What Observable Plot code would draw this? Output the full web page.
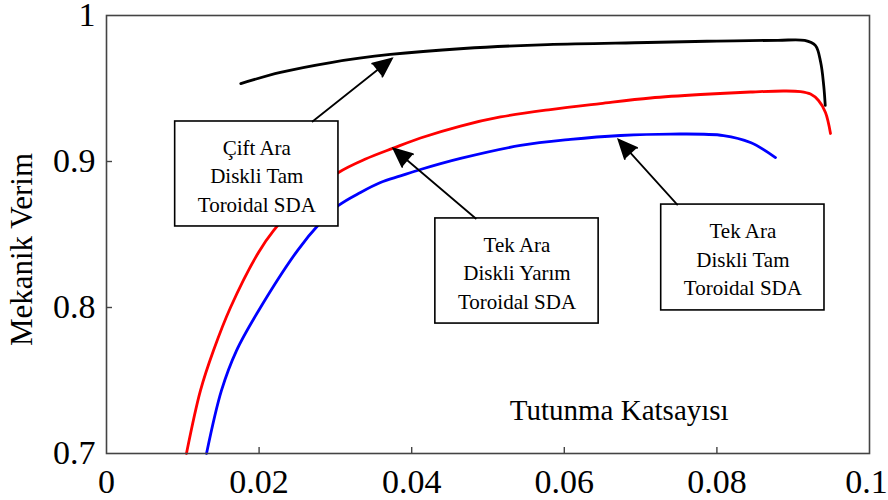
<!DOCTYPE html>
<html>
<head>
<meta charset="utf-8">
<script src="https://cdn.jsdelivr.net/npm/d3@7"></script>
<script src="https://cdn.jsdelivr.net/npm/@observablehq/plot@0.6"></script>
<style>
  html, body { margin: 0; padding: 0; background: #fff; }
  #chart { width: 888px; height: 500px; }
</style>
</head>
<body>
<div id="chart"></div>
<script>
// Çift Ara Diskli Tam Toroidal SDA (black)
const blackX = [0.0176, 0.0228, 0.0294, 0.0372, 0.0468, 0.0578, 0.0709, 0.0800, 0.0880, 0.0915, 0.0929, 0.0936, 0.0940, 0.0942];
const blackY = [0.9534, 0.9610, 0.9678, 0.9733, 0.9774, 0.9801, 0.9815, 0.9825, 0.9830, 0.9829, 0.9795, 0.9680, 0.9520, 0.9384];
// Tek Ara Diskli Yarım Toroidal SDA (red)
const redX = [0.01048, 0.01232, 0.01402, 0.01625, 0.01992, 0.02189, 0.02543, 0.03041, 0.03395, 0.03761, 0.04115, 0.0464, 0.05164, 0.05819, 0.06474, 0.0713, 0.07785, 0.0844, 0.08873, 0.09096, 0.09227, 0.09332, 0.09423, 0.09489];
const redY = [0.7000, 0.7432, 0.7705, 0.8000, 0.8377, 0.8526, 0.8729, 0.8925, 0.9017, 0.9092, 0.9161, 0.9243, 0.9305, 0.9356, 0.9397, 0.9435, 0.9459, 0.9476, 0.9483, 0.9479, 0.9462, 0.9418, 0.9336, 0.9192];
// Tek Ara Diskli Tam Toroidal SDA (blue)
const blueX = [0.01311, 0.01507, 0.01704, 0.01979, 0.02503, 0.02805, 0.03041, 0.03329, 0.03591, 0.03853, 0.04115, 0.0464, 0.05426, 0.06081, 0.06737, 0.07392, 0.08087, 0.0844, 0.08768];
const blueY = [0.7000, 0.7432, 0.7705, 0.7966, 0.8390, 0.8582, 0.8699, 0.8788, 0.8856, 0.8901, 0.8945, 0.9021, 0.9110, 0.9151, 0.9178, 0.9188, 0.9178, 0.9130, 0.9027];

// annotation boxes
const boxLabels = ["Çift Ara\nDiskli Tam\nToroidal SDA", "Tek Ara\nDiskli Yarım\nToroidal SDA", "Tek Ara\nDiskli Tam\nToroidal SDA"];
const boxX1 = [0.0090, 0.0431, 0.0727];
const boxX2 = [0.0304, 0.0645, 0.0941];
const boxY1 = [0.8555, 0.7890, 0.7980];
const boxY2 = [0.9274, 0.8610, 0.8705];
// arrows (from box to curve)
const arrowX1 = [0.0270, 0.0484, 0.0748];
const arrowY1 = [0.9274, 0.8610, 0.8705];
const arrowX2 = [0.0374, 0.0376, 0.0671];
const arrowY2 = [0.9705, 0.9089, 0.9150];

const xTicks = [0, 0.02, 0.04, 0.06, 0.08];
const xLastTick = [0.1];
const yTicks = [0.7, 0.8, 0.9, 1];
const xInnerTicks = [0.02, 0.04, 0.06, 0.08];
const yInnerTicks = [0.8, 0.9];
const xTitle = "Tutunma Katsayısı";
const yTitle = "Mekanik Verim";
const xTitlePos = {x: 0.0672, y: 0.7295};

const serif = "'Liberation Serif', 'Times New Roman', serif";

const series = [
  {name: "black", color: "#000000", xs: blackX, ys: blackY},
  {name: "red", color: "#ff0000", xs: redX, ys: redY},
  {name: "blue", color: "#0000ff", xs: blueX, ys: blueY}
];
const lineData = series.flatMap(s => s.xs.map((x, i) => ({x, y: s.ys[i], name: s.name, color: s.color})));
const boxes = boxLabels.map((t, i) => ({t, x1: boxX1[i], x2: boxX2[i], y1: boxY1[i], y2: boxY2[i]}));
const arrows = arrowX1.map((x1, i) => ({x1, y1: arrowY1[i], x2: arrowX2[i], y2: arrowY2[i]}));

const fmt = d3.format("~g");

const W = 888, H = 500, ML = 106, MR = 19, MT = 15, MB = 47, TICK = 6;

const chart = Plot.plot({
  width: W,
  height: H,
  marginLeft: ML,
  marginRight: MR,
  marginTop: MT,
  marginBottom: MB,
  style: {fontFamily: serif, background: "#fff", color: "#000"},
  x: {domain: [0, 0.1]},
  y: {domain: [0.7, 1]},
  marks: [
    Plot.axisX({ticks: xTicks, tickSize: 0, tickPadding: 15, tickFormat: fmt, fontSize: 34, fontFamily: serif, label: null}),
    Plot.axisX({ticks: xLastTick, tickSize: 0, tickPadding: 15, tickFormat: fmt, fontSize: 34, fontFamily: serif, label: null, dx: -3}),
    Plot.axisY({ticks: yTicks, tickSize: 0, tickPadding: 11, tickFormat: fmt, fontSize: 34, fontFamily: serif, label: null}),
    Plot.tickX(xInnerTicks, {x: d => d, stroke: "#444", strokeWidth: 1.4, insetTop: (H - MT - MB) - TICK}),
    Plot.tickY(yInnerTicks, {y: d => d, stroke: "#444", strokeWidth: 1.4, insetRight: (W - ML - MR) - TICK}),
    Plot.line(lineData, {x: "x", y: "y", z: "name", stroke: "color", strokeWidth: 2.8, curve: "catmull-rom"}),
    Plot.rect(boxes, {x1: "x1", x2: "x2", y1: "y1", y2: "y2", fill: "#fff", stroke: "#000", strokeWidth: 1.6}),
    Plot.text(boxes, {x: d => (d.x1 + d.x2) / 2, y: d => (d.y1 + d.y2) / 2, text: "t", fontSize: 21, fontFamily: serif, lineHeight: 1.36, fill: "#000"}),
    Plot.arrow(arrows, {x1: "x1", y1: "y1", x2: "x2", y2: "y2", stroke: "#000", fill: "#000", strokeWidth: 1.8, headLength: 17, headAngle: 48, strokeLinejoin: "miter", strokeMiterlimit: 10}),
    Plot.text([xTitle], {x: () => xTitlePos.x, y: () => xTitlePos.y, text: d => d, fontSize: 29, fontFamily: serif, fill: "#000"}),
    Plot.text([yTitle], {frameAnchor: "left", textAnchor: "middle", dx: -84, dy: 15, rotate: -90, text: d => d, fontSize: 31, fontFamily: serif, fill: "#000"}),
    Plot.frame({stroke: "#444", strokeWidth: 1.6})
  ]
});
document.getElementById("chart").appendChild(chart);
</script>
</body>
</html>
